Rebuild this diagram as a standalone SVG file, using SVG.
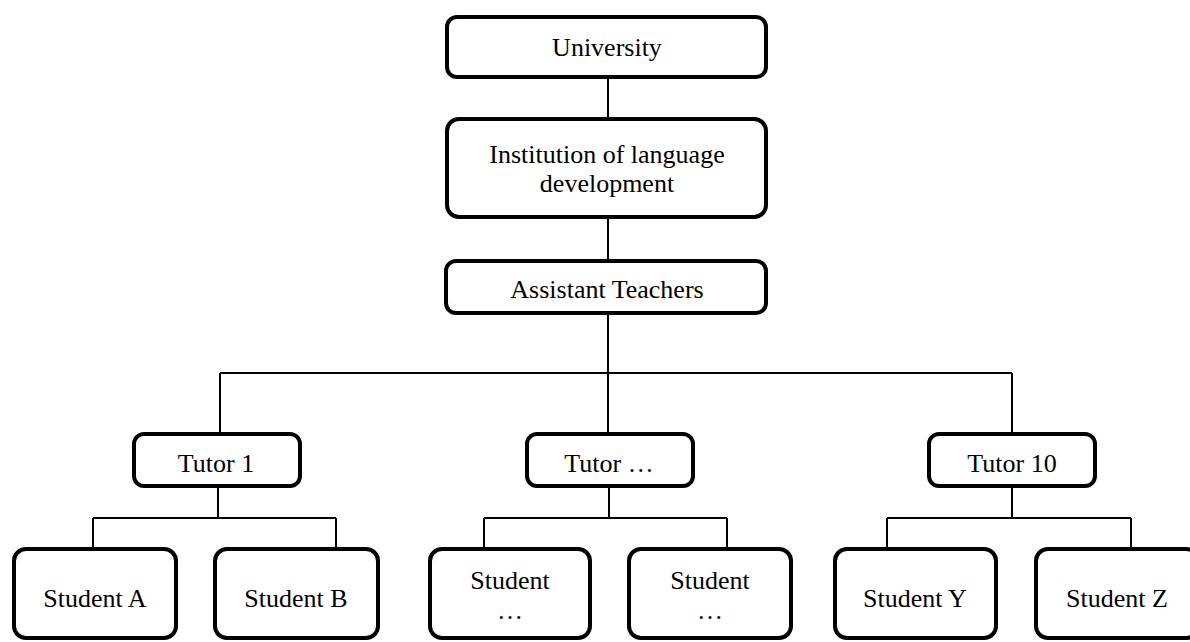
<svg xmlns="http://www.w3.org/2000/svg" width="1190" height="642" viewBox="0 0 1190 642">
<style>
.box{fill:#fff;stroke:#000;stroke-width:4}
.lbl{font-family:"Liberation Serif","Times New Roman",serif;font-size:26px;fill:#000;text-anchor:middle}
.con{stroke:#000;stroke-width:2;fill:none}
</style>
<rect width="1190" height="642" fill="#fff"/>
<g id="connectors">
<path class="con" d="M608 79V117M608 219V259M608 315V433M220 373H1012M220 373V432M1012 373V432"/>
<path class="con" d="M218 488V518M93 518H336M93 518V547M336 518V547"/>
<path class="con" d="M609 488V518M484 518H727M484 518V547M727 518V547"/>
<path class="con" d="M1012 488V518M887 518H1131M887 518V547M1131 518V547"/>
</g>
<g id="university"><rect class="box" x="447" y="17" width="319" height="60" rx="10"/><text class="lbl" x="607" y="56">University</text></g>
<g id="institution"><rect class="box" x="447" y="119" width="319" height="98" rx="12"/><text class="lbl" x="607" y="163">Institution of language</text><text class="lbl" x="607" y="192">development</text></g>
<g id="assistant"><rect class="box" x="446" y="261" width="320" height="52" rx="10"/><text class="lbl" x="607" y="298">Assistant Teachers</text></g>
<g id="tutor1"><rect class="box" x="134" y="434" width="166" height="52" rx="10"/><text class="lbl" x="216" y="472">Tutor 1</text></g>
<g id="tutorx"><rect class="box" x="527" y="434" width="166" height="52" rx="10"/><text class="lbl" x="609" y="472">Tutor …</text></g>
<g id="tutor10"><rect class="box" x="929" y="434" width="166" height="52" rx="10"/><text class="lbl" x="1012" y="472">Tutor 10</text></g>
<g id="studentA"><rect class="box" x="14" y="549" width="162" height="89" rx="12"/><text class="lbl" x="95" y="607">Student A</text></g>
<g id="studentB"><rect class="box" x="215" y="549" width="163" height="89" rx="12"/><text class="lbl" x="296" y="607">Student B</text></g>
<g id="studentX1"><rect class="box" x="430" y="549" width="160" height="89" rx="12"/><text class="lbl" x="510" y="589">Student</text><text class="lbl" x="510" y="619">…</text></g>
<g id="studentX2"><rect class="box" x="629" y="549" width="162" height="89" rx="12"/><text class="lbl" x="710" y="589">Student</text><text class="lbl" x="710" y="619">…</text></g>
<g id="studentY"><rect class="box" x="835" y="549" width="161" height="89" rx="12"/><text class="lbl" x="915" y="607">Student Y</text></g>
<g id="studentZ"><rect class="box" x="1036" y="549" width="162" height="89" rx="12"/><text class="lbl" x="1117" y="607">Student Z</text></g>
</svg>
